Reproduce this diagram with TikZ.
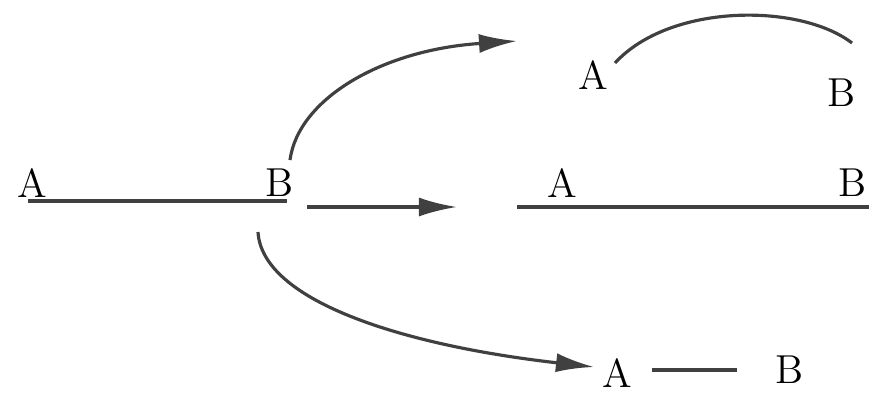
\documentclass[tikz,border=0pt]{standalone}
\usetikzlibrary{arrows.meta}
\tikzset{
  lbl/.style={font=\fontsize{11.5}{13}\selectfont,inner sep=0pt},
  seg/.style={line width=0.9pt,draw=black!75},
  move/.style={line width=0.9pt,draw=black!75,-{Latex[length=3.8mm,width=1.9mm]}},
}
\begin{document}
\begin{tikzpicture}[x=0.01cm,y=-0.01cm]
  \useasboundingbox (0,0) rectangle (869,393);
  % straight string
  \node[lbl] (a0) at (32,183) {A};
  \node[lbl] (b0) at (280,183) {B};
  \coordinate (s0) at (28,201);
  \coordinate (e0) at (287,201);
  \draw[seg] (s0) -- (e0);
  % stretched
  \node[lbl] (a1) at (562,183) {A};
  \node[lbl] (b1) at (853,183) {B};
  \coordinate (s1) at (517,207);
  \coordinate (e1) at (869,207);
  \draw[seg] (s1) -- (e1);
  % bent
  \node[lbl] (a2) at (593,75) {A};
  \node[lbl] (b2) at (842,93) {B};
  \coordinate (s2) at (615,63);
  \coordinate (e2) at (852,43);
  \draw[seg] (s2) .. controls (670,3) and (800,3) .. (e2);
  % shrunk
  \node[lbl] (a3) at (617,373) {A};
  \node[lbl] (b3) at (790,370) {B};
  \coordinate (s3) at (652,370);
  \coordinate (e3) at (737,370);
  \draw[seg] (s3) -- (e3);
  % moves
  \coordinate (m0) at (307,207);
  \coordinate (m1) at (457,207);
  \draw[move] (m0) -- (m1);
  \coordinate (u0) at (290,160);
  \coordinate (u1) at (517,41);
  \draw[move] (u0) .. controls (298,100) and (380,50) .. (u1);
  \coordinate (d0) at (258,232);
  \coordinate (d1) at (594,367);
  \draw[move] (d0) .. controls (262,300) and (400,345) .. (d1);
\end{tikzpicture}
\end{document}
